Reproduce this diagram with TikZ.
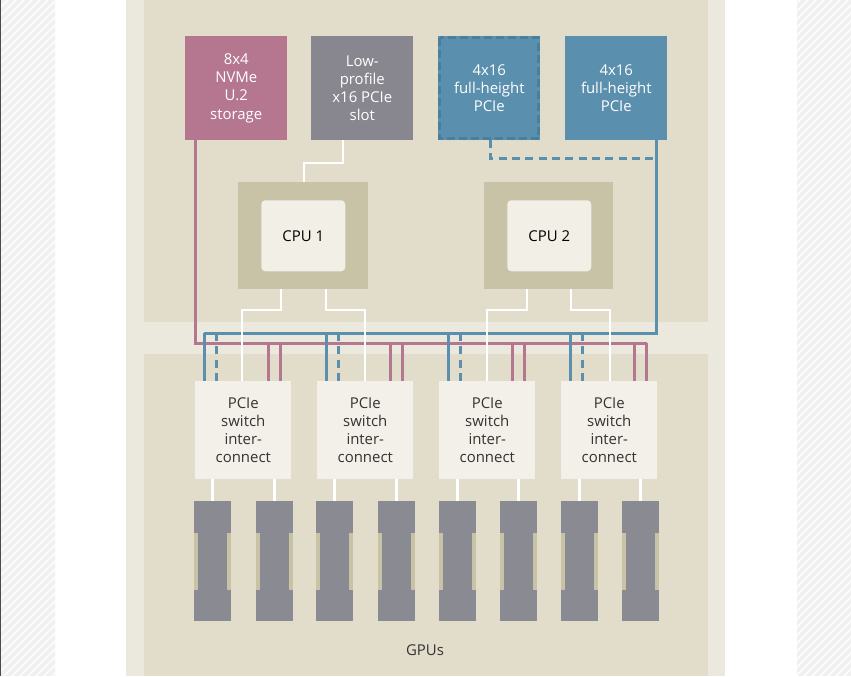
\documentclass[tikz,border=0pt]{standalone}
\usepackage{fontspec}
\setmainfont{Open Sans}
\begin{document}
\begin{tikzpicture}[x=0.75pt,y=-0.75pt,
 pk/.style={draw=pinkc,line width=3pt*0.75},
 bl/.style={draw=bluec,line width=3pt*0.75},
 bld/.style={bl,dash pattern=on 6pt off 4pt},
 wh/.style={draw=white,line width=2.4pt*0.75},
 lbl/.style={font=\fontsize{11.2}{13.6}\selectfont,align=center,inner sep=0},
 sw/.style={fill=swc,draw=none}]
\definecolor{pinkc}{HTML}{B5778F}
\definecolor{bluec}{HTML}{5B8FAE}
\definecolor{blued}{HTML}{4A7E9E}
\definecolor{greyc}{HTML}{88878F}
\definecolor{gpuc}{HTML}{8A8A93}
\definecolor{cpuo}{HTML}{C8C2A7}
\definecolor{cpui}{HTML}{F2EFE7}
\definecolor{swc}{HTML}{F2F0E8}
\definecolor{panelin}{HTML}{E2DCCB}
\definecolor{panelout}{HTML}{EBE8DD}
\definecolor{hatc}{HTML}{F0F0F0}
\useasboundingbox (0,0) rectangle (851,676);
% margins
\fill[white] (0,0) rectangle (851,676);
\begin{scope}
\clip (0,0) rectangle (55,676) (797,0) rectangle (851,676);
\fill[hatc] (0,0) rectangle (851,676);
\foreach \k in {-20,...,200} \draw[white,line width=1.4pt*0.75] (\k*8,0) -- (\k*8-700,700);
\end{scope}
\draw[black!70,line width=1pt] (0,0) -- (0,676);
\fill[panelout] (126,0) rectangle (725,676);
\fill[panelin] (144,0) rectangle (708,322);
\fill[panelin] (144,354) rectangle (708,676);
% top boxes
\node[fill=pinkc,minimum width=102*0.75pt,minimum height=104*0.75pt,inner sep=0,text=white,lbl,anchor=north west] (st) at (185,36) {8x4\\NVMe\\U.2\\storage};
\node[fill=greyc,minimum width=102*0.75pt,minimum height=104*0.75pt,inner sep=0,text=white,lbl,anchor=north west] (lp) at (311,36) {Low-\\profile\\x16 PCIe\\slot};
\node[fill=bluec,minimum width=102*0.75pt,minimum height=104*0.75pt,inner sep=0,text=white,lbl,anchor=north west] (fh1) at (438,36) {4x16\\full-height\\PCIe};
\draw[blued,line width=3pt*0.75,dash pattern=on 6pt off 3pt] (439.5,37.5) rectangle (538.5,138.5);
\node[fill=bluec,minimum width=102*0.75pt,minimum height=104*0.75pt,inner sep=0,text=white,lbl,anchor=north west] (fh2) at (565,36) {4x16\\full-height\\PCIe};
% CPUs
\fill[cpuo] (238,182) rectangle (368,289);
\node[fill=cpui,rounded corners=3pt,minimum width=84*0.75pt,minimum height=71*0.75pt,lbl,anchor=north west] (c1) at (261,200) {CPU 1};
\fill[cpuo] (484,182) rectangle (613,289);
\node[fill=cpui,rounded corners=3pt,minimum width=84*0.75pt,minimum height=71*0.75pt,lbl,anchor=north west] (c2) at (507,200) {CPU 2};
% low profile to CPU1
\draw[wh] (343,140) -- (343,163) -- (304,163) -- (304,182);
% buses
\draw[bl] (656,140) -- (656,333) -- (204,333);
\draw[pk] (195,140) -- (195,343) -- (647,343);
\draw[bld] (490,140) -- (490,158) -- (656,158);
% switches
\foreach \n/\x in {1/195,2/317,3/439,4/561}{
 \draw[bl] (\x+9,333) -- (\x+9,381);
 \draw[bld] (\x+21,333) -- (\x+21,381);
 \draw[pk] (\x+73,343) -- (\x+73,381);
 \draw[pk] (\x+85,343) -- (\x+85,381);
}
\draw[wh] (281,289) -- (281,310) -- (242,310) -- (242,381);
\draw[wh] (326,289) -- (326,310) -- (365,310) -- (365,381);
\draw[wh] (527,289) -- (527,310) -- (487,310) -- (487,381);
\draw[wh] (571,289) -- (571,310) -- (610,310) -- (610,381);
\foreach \n/\x in {1/195,2/317,3/439,4/561}{
 \node[sw,minimum width=96*0.75pt,minimum height=98*0.75pt,inner sep=0,lbl,text=black!80,anchor=north west] (s\n) at (\x,381) {PCIe\\switch\\inter-\\connect};
}
% GPUs
\foreach \g/\x in {1/194,2/256,3/316,4/378,5/439,6/500,7/561,8/622}{
 \draw[wh] (\x+18.5,479) -- (\x+18.5,501);
 \fill[gpuc] (\x,501) rectangle (\x+37,621);
 \fill[cpuo] (\x,533) rectangle (\x+4,590);
 \fill[cpuo] (\x+33,533) rectangle (\x+37,590);
}
\node[lbl,text=black!80] (gp) at (425,650) {GPUs};
\end{tikzpicture}
\end{document}
